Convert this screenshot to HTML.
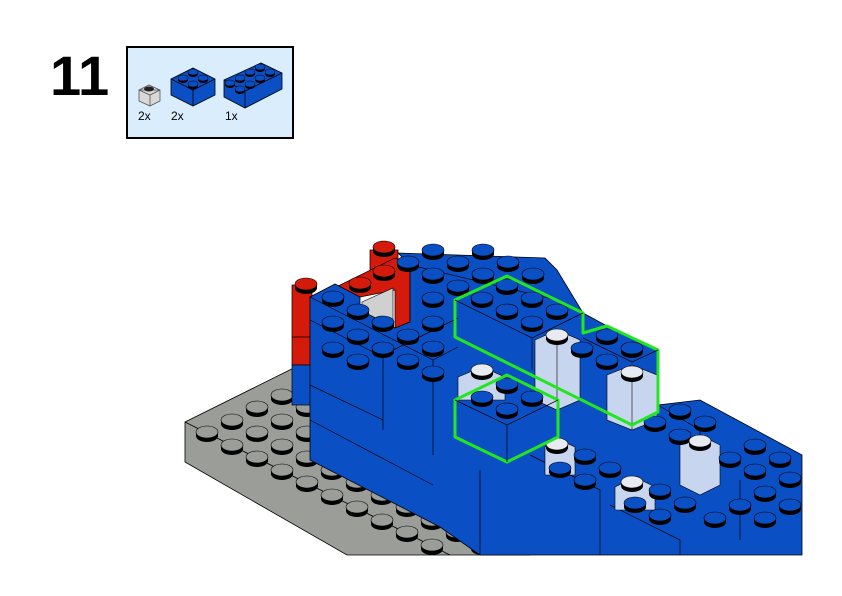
<!DOCTYPE html>
<html><head><meta charset="utf-8"><style>
html,body{margin:0;padding:0;background:#fff;width:842px;height:596px;overflow:hidden}
svg{display:block}
</style></head><body>
<svg width="842" height="596" viewBox="0 0 842 596" xmlns="http://www.w3.org/2000/svg">
<defs>
<g id="bs"><ellipse cx="0" cy="4" rx="11" ry="6" fill="#000"/><rect x="-11" y="0" width="22" height="4" fill="#000"/><ellipse cx="0" cy="0" rx="11" ry="6" fill="#0a50c4" stroke="#000" stroke-width="0.6"/></g>
<g id="gs"><ellipse cx="0" cy="4" rx="11" ry="6" fill="#000"/><rect x="-11" y="0" width="22" height="4" fill="#000"/><ellipse cx="0" cy="0" rx="11" ry="6" fill="#9a9d98" stroke="#000" stroke-width="0.6"/></g>
<g id="cs"><ellipse cx="0" cy="4" rx="11" ry="6" fill="#000"/><rect x="-11" y="0" width="22" height="4" fill="#000"/><ellipse cx="0" cy="0" rx="11" ry="6" fill="#e8ecf2" stroke="#000" stroke-width="0.6"/></g>
<g id="rs"><ellipse cx="0" cy="4" rx="11" ry="6" fill="#000"/><rect x="-11" y="0" width="22" height="4" fill="#000"/><ellipse cx="0" cy="0" rx="11" ry="6" fill="#d41a0a" stroke="#000" stroke-width="0.6"/></g>
<g id="is"><ellipse cx="0" cy="2" rx="5" ry="3" fill="#000"/><ellipse cx="0" cy="0" rx="5" ry="3" fill="#0a50c4" stroke="#000" stroke-width="0.5"/></g>
</defs>

<text x="50" y="95" font-family="Liberation Sans, sans-serif" font-weight="bold" font-size="56" fill="#000">11</text>
<rect x="127" y="47" width="166" height="91" fill="#d9edfd" stroke="#000" stroke-width="2"/>
<polygon points="139,90 149,85 160,90 160,101 150,106 139,101" fill="#d8d8d8" stroke="#555" stroke-width="0.8"/>
<polygon points="139,90 150,95 160,90" fill="none" stroke="#555" stroke-width="0.8"/>
<line x1="150" y1="95" x2="150" y2="106" stroke="#555" stroke-width="0.8"/>
<ellipse cx="149" cy="89" rx="5" ry="2.5" fill="#222"/>
<polygon points="171,79 193,68 215,79 215,95 193,106 171,95" fill="#0a50c4" stroke="#000" stroke-width="0.8"/>
<polyline points="171,79 193,90 215,79" fill="none" stroke="#000" stroke-width="0.8"/>
<line x1="193" y1="90" x2="193" y2="106" stroke="#000" stroke-width="0.8"/>
<use href="#is" x="193" y="72"/><use href="#is" x="183" y="78"/><use href="#is" x="203" y="78"/><use href="#is" x="193" y="84"/>
<polygon points="224,80 261,63 282,73 282,89 245,108 224,97" fill="#0a50c4" stroke="#000" stroke-width="0.8"/>
<polyline points="224,80 245,91 282,73" fill="none" stroke="#000" stroke-width="0.8"/>
<line x1="245" y1="91" x2="245" y2="108" stroke="#000" stroke-width="0.8"/>
<use href="#is" x="260" y="67"/><use href="#is" x="250" y="72"/><use href="#is" x="270" y="72"/><use href="#is" x="240" y="78"/><use href="#is" x="260" y="78"/><use href="#is" x="230" y="83"/><use href="#is" x="250" y="84"/><use href="#is" x="240" y="89"/>
<g font-family="Liberation Sans, sans-serif" font-size="12" fill="#000"><text x="138" y="120">2x</text><text x="171" y="120">2x</text><text x="225" y="120">1x</text></g>

<!-- baseplate -->
<polygon points="185,422 330,350 580,475 530,555 347,555 185,462" fill="#9a9d98" stroke="#000" stroke-width="0.8"/>
<line x1="185" y1="422" x2="450" y2="555" stroke="#000" stroke-width="0.8"/>
<g>
<use href="#gs" x="207" y="432"/><use href="#gs" x="232" y="445"/><use href="#gs" x="257" y="457"/><use href="#gs" x="282" y="470"/><use href="#gs" x="307" y="482"/><use href="#gs" x="332" y="495"/><use href="#gs" x="357" y="507"/><use href="#gs" x="382" y="520"/><use href="#gs" x="407" y="532"/><use href="#gs" x="432" y="545"/>
<use href="#gs" x="232" y="420"/><use href="#gs" x="257" y="432"/><use href="#gs" x="282" y="445"/><use href="#gs" x="307" y="457"/><use href="#gs" x="332" y="470"/><use href="#gs" x="357" y="482"/><use href="#gs" x="382" y="495"/><use href="#gs" x="407" y="507"/><use href="#gs" x="432" y="520"/><use href="#gs" x="457" y="532"/><use href="#gs" x="482" y="545"/>
<use href="#gs" x="257" y="407"/><use href="#gs" x="282" y="420"/><use href="#gs" x="307" y="432"/><use href="#gs" x="282" y="395"/><use href="#gs" x="307" y="407"/><use href="#gs" x="307" y="382"/>
<use href="#gs" x="457" y="507"/><use href="#gs" x="482" y="520"/><use href="#gs" x="507" y="532"/>
</g>

<!-- red pieces -->
<polygon points="370,250 398,250 398,270 370,270" fill="#d41a0a" stroke="#000" stroke-width="0.7"/>
<use href="#rs" x="384" y="247"/>
<polygon points="330,290 395,258 410,265 410,330 395,330 395,290 345,300" fill="#d41a0a" stroke="#000" stroke-width="0.7"/>
<polygon points="362,302 393,288 393,325 362,318" fill="#d0d0d0" stroke="#000" stroke-width="0.6"/>
<use href="#rs" x="360" y="283"/><use href="#rs" x="384" y="271"/>
<rect x="292" y="285" width="20" height="80" fill="#d41a0a" stroke="#000" stroke-width="0.7"/>
<rect x="292" y="365" width="20" height="40" fill="#0a50c4" stroke="#000" stroke-width="0.7"/>
<line x1="292" y1="337" x2="312" y2="337" stroke="#000" stroke-width="0.7"/>
<use href="#rs" x="306" y="284"/>

<!-- blue mass -->
<polygon points="310,297 335,284 360,297 360,310 395,328 410,322 410,265 398,253 545,258 557,270 583,313 607,326 658,350 658,405 700,400 802,455 802,555 480,555 440,527 310,460" fill="#0a50c4" stroke="#000" stroke-width="0.8"/>
<g fill="none" stroke="#000" stroke-width="0.7">
<polyline points="310,297 433,360 433,455"/>
<polyline points="310,320 383,357 383,430"/>
<line x1="310" y1="385" x2="383" y2="420"/><line x1="310" y1="420" x2="433" y2="485"/>
<polyline points="383,355 458,318"/>
<line x1="433" y1="360" x2="458" y2="347"/>
<line x1="410" y1="265" x2="557" y2="300"/>
<polyline points="480,470 480,555"/>
<polyline points="530,455 600,490 600,555"/>
<polyline points="610,505 680,540 680,555"/>
<line x1="658" y1="405" x2="700" y2="430"/><line x1="700" y1="430" x2="700" y2="480"/>
<line x1="740" y1="480" x2="740" y2="540"/>
</g>

<g fill="#c7d6ee" stroke="#000" stroke-width="0.6">
<polygon points="535,340 557,330 580,340 580,400 557,410 535,400"/>
<polygon points="607,375 632,365 657,375 657,420 632,430 607,420"/>
<polygon points="458,377 482,367 505,377 505,400 458,400"/>
<polygon points="680,445 700,435 720,445 720,485 700,495 680,485"/>
<polygon points="615,487 635,477 655,487 655,510 615,510"/>
<polygon points="545,447 560,440 575,447 575,475 545,475"/>
</g>
<line x1="557" y1="345" x2="557" y2="410" stroke="#000" stroke-width="0.6"/>
<line x1="632" y1="380" x2="632" y2="430" stroke="#000" stroke-width="0.6"/>

<g>
<use href="#bs" x="408" y="262"/><use href="#bs" x="433" y="250"/><use href="#bs" x="458" y="262"/><use href="#bs" x="483" y="250"/><use href="#bs" x="508" y="262"/><use href="#bs" x="533" y="274"/><use href="#bs" x="433" y="274"/><use href="#bs" x="458" y="286"/><use href="#bs" x="483" y="274"/>
<use href="#bs" x="333" y="297"/><use href="#bs" x="358" y="310"/><use href="#bs" x="333" y="322"/><use href="#bs" x="358" y="335"/><use href="#bs" x="383" y="322"/><use href="#bs" x="333" y="348"/><use href="#bs" x="358" y="360"/><use href="#bs" x="383" y="348"/><use href="#bs" x="408" y="335"/><use href="#bs" x="433" y="347"/><use href="#bs" x="408" y="360"/><use href="#bs" x="433" y="372"/><use href="#bs" x="433" y="322"/><use href="#bs" x="433" y="298"/>
<use href="#bs" x="507" y="285"/><use href="#bs" x="482" y="298"/><use href="#bs" x="532" y="298"/><use href="#bs" x="507" y="310"/><use href="#bs" x="557" y="310"/><use href="#bs" x="532" y="322"/>
<use href="#bs" x="607" y="335"/><use href="#bs" x="582" y="348"/><use href="#bs" x="632" y="348"/><use href="#bs" x="607" y="360"/>
<use href="#bs" x="507" y="384"/><use href="#bs" x="482" y="397"/><use href="#bs" x="532" y="397"/><use href="#bs" x="507" y="409"/>
<use href="#bs" x="680" y="410"/><use href="#bs" x="655" y="422"/><use href="#bs" x="705" y="422"/><use href="#bs" x="680" y="435"/>
<use href="#bs" x="755" y="445"/><use href="#bs" x="730" y="458"/><use href="#bs" x="780" y="458"/><use href="#bs" x="755" y="470"/><use href="#bs" x="790" y="478"/><use href="#bs" x="765" y="492"/><use href="#bs" x="740" y="505"/><use href="#bs" x="790" y="505"/><use href="#bs" x="715" y="518"/><use href="#bs" x="765" y="518"/>
<use href="#bs" x="585" y="455"/><use href="#bs" x="560" y="468"/><use href="#bs" x="610" y="468"/><use href="#bs" x="585" y="480"/>
<use href="#bs" x="660" y="490"/><use href="#bs" x="635" y="503"/><use href="#bs" x="685" y="503"/><use href="#bs" x="660" y="515"/>
</g>
<g><use href="#cs" x="557" y="335"/><use href="#cs" x="482" y="370"/><use href="#cs" x="632" y="372"/><use href="#cs" x="700" y="441"/><use href="#cs" x="557" y="444"/><use href="#cs" x="632" y="482"/></g>

<g fill="none" stroke="#22e61e" stroke-width="3" stroke-linejoin="round">
<polygon points="455,300 507,276 583,313 583,333 607,326 658,350 658,412 632,425 455,337"/>
<polygon points="455,400 507,375 558,400 558,437 507,462 455,437"/>
</g>
<g fill="none" stroke="#000" stroke-width="0.7">
<polyline points="455,300 532,338 583,313"/><line x1="532" y1="338" x2="532" y2="370"/>
<polyline points="455,400 507,425 558,400"/><line x1="507" y1="425" x2="507" y2="462"/>
<polyline points="583,338 632,362 658,350"/>
</g>
<rect x="0" y="556" width="842" height="40" fill="#fff"/>
</svg>
</body></html>
